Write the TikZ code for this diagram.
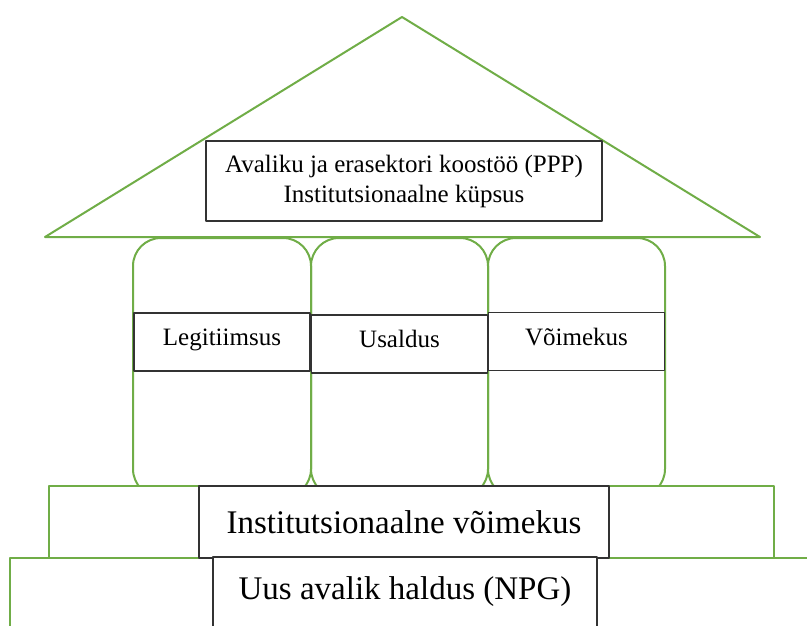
\documentclass[tikz,border=0pt]{standalone}
\usepackage{fontspec}
\setmainfont{Liberation Serif}
\definecolor{housegreen}{HTML}{70AD47}
\begin{document}
\begin{tikzpicture}[line cap=round,line join=round,x=1pt,y=-1pt,
  wall/.style={housegreen,line width=2pt,fill=white},
  sign/.style={draw=black!80,line width=1.3pt,fill=white,inner sep=0pt,align=center},
  pillarsign/.style={sign,minimum width=176pt,minimum height=58pt,
    text height=18pt,text depth=10.5pt,font=\fontsize{25}{29}\selectfont}]

\def\pt{238} %pillar top
\def\pb{497} %pillar bottom (under the step)
\def\pr{28pt} %pillar corner radius

\useasboundingbox (0,0) rectangle (807,625);
\clip (0,0) rectangle (807,625);

%roof
\draw[wall] (45,237) -- (402,17) -- (760,237) -- cycle;
\node[sign,minimum width=396pt,minimum height=80pt,font=\fontsize{25}{30}\selectfont] (ppp) at (404,181)
  {Avaliku ja erasektori koostöö (PPP)\\Institutsionaalne küpsus};

%pillars
\foreach \a/\b in {133/311,311/488,488/665}
  \draw[wall,fill=none,rounded corners=\pr] (\a,\pt) rectangle (\b,\pb);

%pillar signs
\node[pillarsign] (legit) at (222,342) {Legitiimsus};
\node[pillarsign] (usald) at (399.5,344) {Usaldus};
\node[pillarsign] (voim) at (576.5,341.5) {Võimekus};

%steps
\draw[wall] (49,486) rectangle (774,558);
\draw[wall] (10,558) rectangle (830,660);

\node[sign,minimum width=410pt,minimum height=72pt,font=\fontsize{33}{38}\selectfont] (inst) at (404,522) {Institutsionaalne võimekus};
\node[sign,minimum width=384pt,minimum height=70pt,font=\fontsize{33}{38}\selectfont] (npg) at (405,592) {Uus avalik haldus (NPG)};
\end{tikzpicture}
\end{document}
